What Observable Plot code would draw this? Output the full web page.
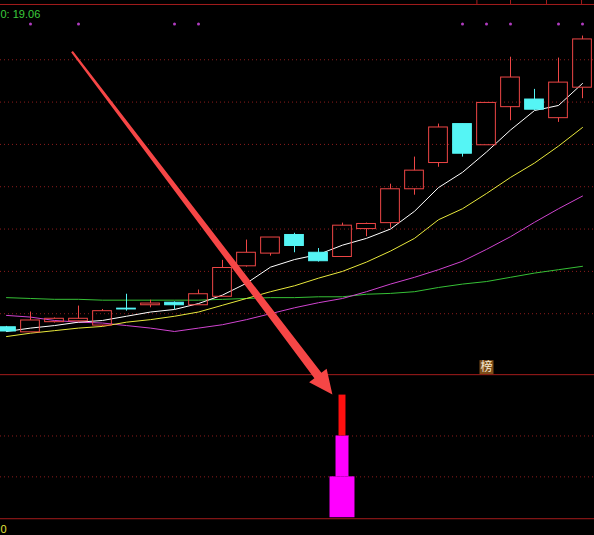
<!DOCTYPE html>
<html>
<head>
<meta charset="utf-8">
<script src="https://cdn.jsdelivr.net/npm/d3@7"></script>
<script src="https://cdn.jsdelivr.net/npm/@observablehq/plot@0.6"></script>
<style>
  html, body { margin: 0; padding: 0; background: #000; overflow: hidden; }
  #chart svg { display: block; }
</style>
</head>
<body>
<div id="chart"></div>
<script>
// ---- daily bars (index 0..24) ----
const open  = [18.34, 18.28, 18.40, 18.41, 18.36, 18.56, 18.60, 18.63, 18.60, 18.70, 19.06, 19.21, 19.43,
               19.22, 19.17, 19.50, 19.57, 19.97, 20.28, 20.74, 20.49, 20.94, 21.03, 20.81, 21.17];
const close = [18.29, 18.42, 18.44, 18.44, 18.53, 18.55, 18.62, 18.60, 18.73, 19.04, 19.22, 19.40, 19.30,
               19.12, 19.54, 19.56, 19.97, 20.19, 20.70, 20.39, 20.99, 21.29, 20.91, 21.23, 21.74];
const high  = [18.35, 18.52, 18.45, 18.59, 18.55, 18.73, 18.66, 18.64, 18.78, 19.13, 19.37, 19.40, 19.45,
               19.27, 19.57, 19.57, 20.03, 20.35, 20.74, 20.74, 20.99, 21.53, 21.15, 21.52, 21.78];
const low   = [18.29, 18.28, 18.39, 18.40, 18.35, 18.53, 18.57, 18.55, 18.60, 18.70, 19.05, 19.18, 19.22,
               19.11, 19.17, 19.41, 19.51, 19.90, 20.23, 20.35, 20.49, 20.78, 20.90, 20.76, 21.04];

// ---- moving averages ----
const ma5  = [18.29, 18.33, 18.36, 18.40, 18.42, 18.47, 18.52, 18.55, 18.62, 18.72, 18.86, 19.05, 19.14,
              19.20, 19.31, 19.39, 19.50, 19.71, 19.99, 20.17, 20.41, 20.67, 20.90, 20.96, 21.22];
const ma10 = [18.23, 18.27, 18.30, 18.33, 18.35, 18.40, 18.43, 18.47, 18.52, 18.60, 18.68, 18.76, 18.83,
              18.92, 19.00, 19.11, 19.24, 19.39, 19.61, 19.74, 19.92, 20.11, 20.28, 20.48, 20.70];
const ma20 = [18.48, 18.46, 18.42, 18.40, 18.39, 18.36, 18.33, 18.29, 18.33, 18.37, 18.43, 18.50, 18.57,
              18.63, 18.68, 18.76, 18.85, 18.93, 19.02, 19.12, 19.26, 19.41, 19.58, 19.74, 19.89];
const ma60 = [18.69, 18.68, 18.67, 18.67, 18.66, 18.66, 18.66, 18.66, 18.66, 18.67, 18.68, 18.69, 18.69,
              18.70, 18.70, 18.73, 18.74, 18.76, 18.81, 18.85, 18.88, 18.93, 18.98, 19.02, 19.06];

// ---- signals and labels ----
const signalBars = [1, 3, 7, 8, 19, 20, 21, 23, 24];
const rankBar = 20;
const rankLabel = "榜";
const headerLabel = "0: 19.06";
const zeroLabel = "0";
const gridPrices = [18.5, 19.0, 19.5, 20.0, 20.5, 21.0, 21.5];
const topTicks = [19.6, 21.0, 22.5, 23.96];

// ---- lower indicator: stacked tiers on the breakout bar ----
const tierBar = 14;
const tierLevels = [1, 2, 3];
const lowerGrid = [1, 2];

// ---- arrow from the price panel down to the indicator ----
const arrowFrom = {bar: 2.75, price: 21.59};
const arrowTo = {bar: 13.6, level: 3};

// ---- layout & style ----
const W = 594, H = 535;
const xDomain = [-0.25, 24.5];
const yDomain = [15.88, 22.2];
const mainTop = 22.153;
const lower = d3.scaleLinear([0, 3.5], [16.09, 17.78]); // indicator value -> shared y units
const bodyHalf = 0.39;
const tierHalf = [0.52, 0.27, 0.145];
const tierColor = ["#ff00ff", "#ff00ff", "#ff1010"];
const RED = "#ee4646", CYAN = "#55f5f5";
const GRID = "#8c1c1c", BORDER = "#a41c1c";

const bars = open.map((o, i) => ({i, o, c: close[i], h: high[i], l: low[i]}));
const ups = bars.filter(d => d.c >= d.o);
const downs = bars.filter(d => d.c < d.o);
const series = v => v.map((y, i) => ({i, y}));
const tiers = tierLevels.map((hi, k) => ({k, lo: k ? tierLevels[k - 1] : 0, hi}));

const xFallback = d3.scaleLinear(xDomain, [0, W]);
const yFallback = d3.scaleLinear(yDomain, [H, 0]);

// tapered arrow with a triangular head
function arrowMark(index, scales) {
  const sx = scales && typeof scales.x === "function" ? scales.x : xFallback;
  const sy = scales && typeof scales.y === "function" ? scales.y : yFallback;
  const x0 = sx(arrowFrom.bar), y0 = sy(arrowFrom.price);
  const x1 = sx(arrowTo.bar), y1 = sy(lower(arrowTo.level));
  const len = Math.hypot(x1 - x0, y1 - y0);
  const ux = (x1 - x0) / len, uy = (y1 - y0) / len;
  const nx = -uy, ny = ux;
  const headLen = 24, headHalf = 11, neckHalf = 4.4, tailHalf = 1.1;
  const bx = x1 - ux * headLen, by = y1 - uy * headLen;
  const pts = [
    [x0 + nx * tailHalf, y0 + ny * tailHalf],
    [bx + nx * neckHalf, by + ny * neckHalf],
    [bx + nx * headHalf, by + ny * headHalf],
    [x1, y1],
    [bx - nx * headHalf, by - ny * headHalf],
    [bx - nx * neckHalf, by - ny * neckHalf],
    [x0 - nx * tailHalf, y0 - ny * tailHalf]
  ];
  return d3.create("svg:path")
    .attr("d", "M" + pts.map(p => p.join(",")).join("L") + "Z")
    .attr("fill", "#f64646")
    .node();
}

const chart = Plot.plot({
  width: W,
  height: H,
  margin: 0,
  x: {domain: xDomain, axis: null},
  y: {domain: yDomain, axis: null},
  style: {background: "#000", fontFamily: "'Liberation Sans', Arial, sans-serif", fontSize: "11px", overflow: "visible"},
  marks: [
    // dotted grid, main panel
    Plot.ruleY(gridPrices, {stroke: GRID, strokeDasharray: "1,3"}),
    // dotted grid, indicator panel
    Plot.ruleY(lowerGrid, {y: d => lower(d), stroke: GRID, strokeDasharray: "1,3"}),
    // panel borders
    Plot.ruleY([mainTop], {stroke: BORDER}),
    Plot.ruleY([3.5], {y: d => lower(d), stroke: BORDER}),
    Plot.ruleY([0], {y: d => lower(d), dy: 1, stroke: BORDER}),
    Plot.ruleX(topTicks, {y1: mainTop, y2: yDomain[1], stroke: BORDER}),

    // moving averages
    Plot.line(series(ma60), {x: "i", y: "y", stroke: "#36c036", strokeWidth: 1}),
    Plot.line(series(ma20), {x: "i", y: "y", stroke: "#d044d0", strokeWidth: 1}),
    Plot.line(series(ma10), {x: "i", y: "y", stroke: "#e8e83c", strokeWidth: 1}),
    Plot.line(series(ma5),  {x: "i", y: "y", stroke: "#ffffff", strokeWidth: 1}),

    // candle wicks
    Plot.ruleX(ups, {x: "i", y1: "c", y2: "h", stroke: RED}),
    Plot.ruleX(ups, {x: "i", y1: "l", y2: "o", stroke: RED}),
    Plot.ruleX(downs, {x: "i", y1: "l", y2: "h", stroke: CYAN}),
    // candle bodies: hollow red up, solid cyan down
    Plot.rect(ups, {x1: d => d.i - bodyHalf, x2: d => d.i + bodyHalf, y1: "o", y2: "c", fill: "none", stroke: RED}),
    Plot.rect(downs, {x1: d => d.i - bodyHalf, x2: d => d.i + bodyHalf, y1: "o", y2: "c", fill: CYAN, stroke: CYAN}),

    // signal dots along the top
    Plot.dot(signalBars, {x: d => d, y: mainTop, dy: 19.5, r: 1.5, fill: "#b03cc0", stroke: "none"}),

    // indicator tiers
    Plot.rect(tiers, {
      x1: d => tierBar - tierHalf[d.k], x2: d => tierBar + tierHalf[d.k],
      y1: d => lower(d.lo), y2: d => lower(d.hi),
      fill: d => tierColor[d.k]
    }),

    // rank badge
    Plot.dot([rankBar], {x: d => d, y: lower(3.5), dy: -7.5, symbol: "square", r: 7.9, fill: "#7c4c18", stroke: "none"}),
    Plot.text([rankLabel], {x: rankBar, y: lower(3.5), dy: -7.5, text: d => d, fill: "#f6ead2",
      fontSize: 12, fontFamily: "'Noto Sans CJK SC', sans-serif"}),

    // header value and panel zero
    Plot.text([headerLabel], {frameAnchor: "top-left", textAnchor: "start", lineAnchor: "bottom",
      dx: 0, dy: 17, text: d => d, fill: "#3ccc3c", fontSize: 11}),
    Plot.text([zeroLabel], {frameAnchor: "bottom-left", textAnchor: "start", lineAnchor: "bottom",
      dx: 0, dy: -3, text: d => d, fill: "#e6e63a", fontSize: 11}),

    // arrow
    arrowMark
  ]
});

document.getElementById("chart").appendChild(chart);
</script>
</body>
</html>
